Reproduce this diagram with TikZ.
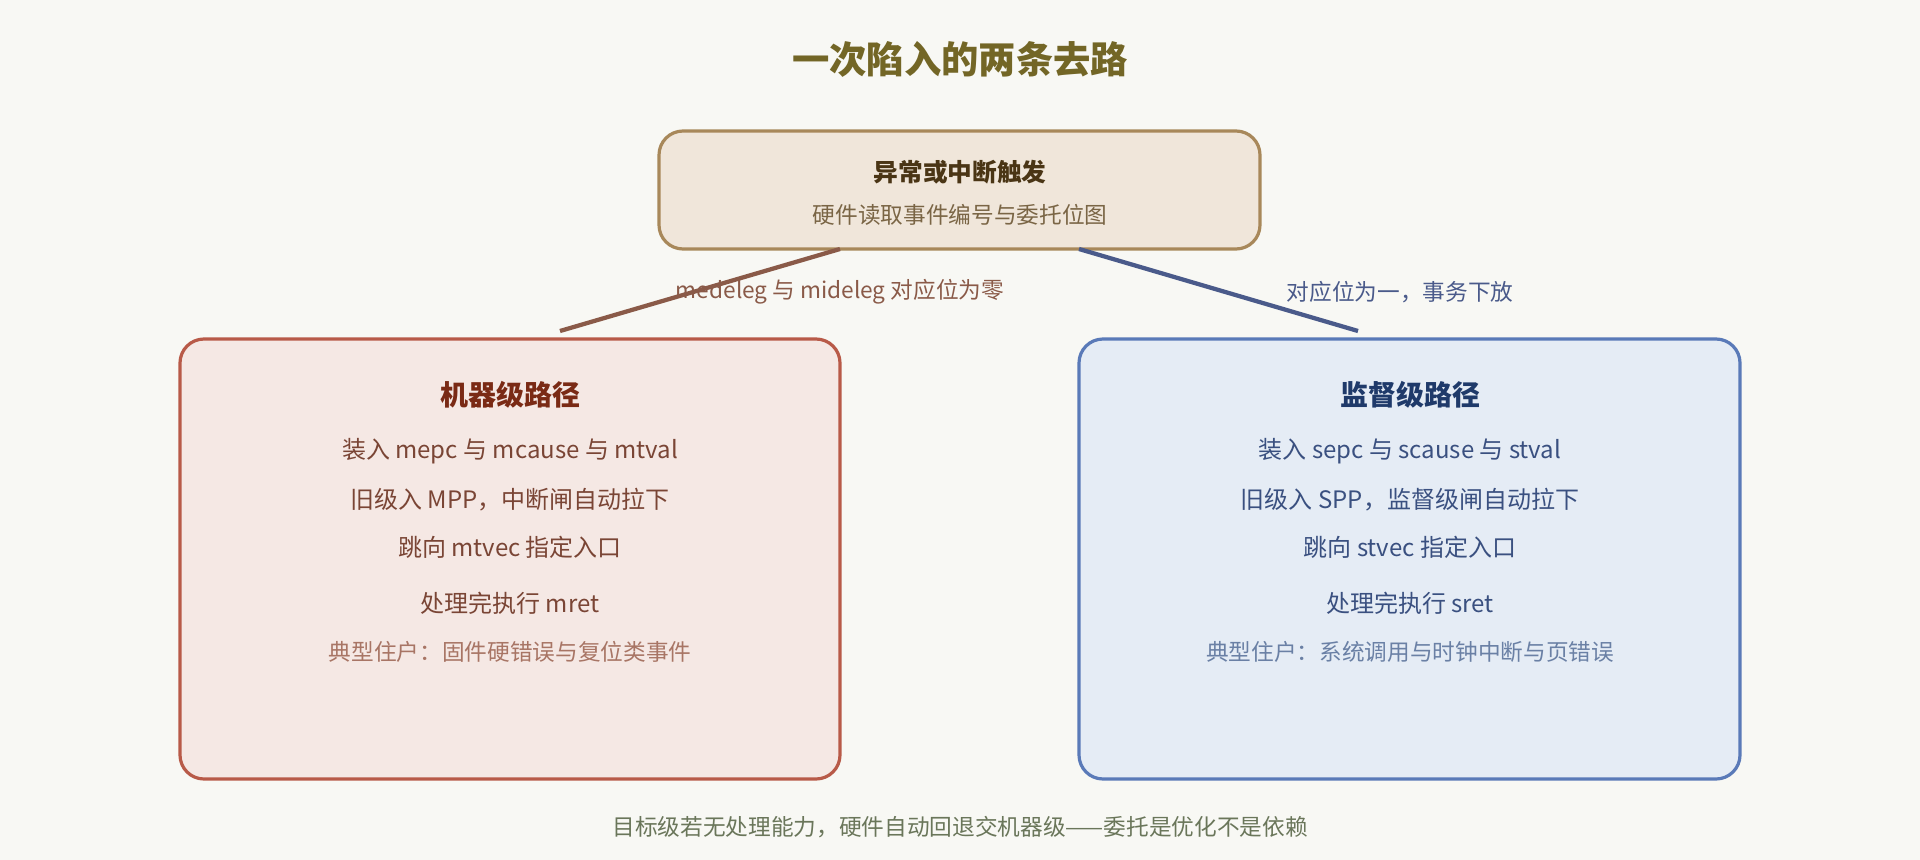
\documentclass[tikz,border=0pt]{standalone}
\usepackage{fontspec}
\setmainfont{Noto Sans CJK SC}
\newfontfamily\cjkb{Noto Sans CJK SC}[FakeBold=0]
\begin{document}
\begin{tikzpicture}[x=0.75pt,y=-0.75pt,
  box/.style={draw,line width=2.4pt,rounded corners=18pt},
  t/.style={inner sep=0pt,anchor=center},
  link/.style={line width=3.2pt}]
\definecolor{bg}{HTML}{F8F8F4}
\definecolor{tfill}{HTML}{F0E6DA}\definecolor{tdraw}{HTML}{A8885A}
\definecolor{lfill}{HTML}{F5E8E4}\definecolor{ldraw}{HTML}{B85A48}
\definecolor{rfill}{HTML}{E5ECF5}\definecolor{rdraw}{HTML}{5A7AB8}
\fill[bg] (0,0) rectangle (1920,860);
\useasboundingbox (0,0) rectangle (1920,860);
\node[t,font=\fontsize{28}{30}\selectfont\bfseries,text=black!75!green!40!brown] (title) at (960,59) {一次陷入的两条去路};
\draw[box,draw=tdraw,fill=tfill] (659,131) rectangle (1260,249);
\coordinate (top) at (960,190);
\node[t,font=\fontsize{18.5}{20}\selectfont\bfseries,text={rgb,255:red,74;green,53;blue,21}] (tt) at (960,172) {异常或中断触发};
\node[t,font=\fontsize{17}{20}\selectfont,text={rgb,255:red,122;green,101;blue,69}] (ts) at (960,215) {硬件读取事件编号与委托位图};
\coordinate (la) at (840,249); \coordinate (lb) at (560,331);
\coordinate (ra) at (1079,249); \coordinate (rb) at (1358,331);
\draw[link,color={rgb,255:red,138;green,90;blue,72}] (la) -- (lb);
\draw[link,color={rgb,255:red,74;green,90;blue,138}] (ra) -- (rb);
\node[t,font=\fontsize{17}{20}\selectfont,text={rgb,255:red,138;green,90;blue,72}] (ll) at (840,292) {medeleg 与 mideleg 对应位为零};
\node[t,font=\fontsize{17}{20}\selectfont,text={rgb,255:red,74;green,90;blue,138}] (rl) at (1400,292) {对应位为一，事务下放};
% left
\draw[box,draw=ldraw,fill=lfill] (180,339) rectangle (840,779);
\begin{scope}[every node/.style={t,font=\fontsize{18}{20}\selectfont,text={rgb,255:red,122;green,69;blue,53}}]
\node[font=\fontsize{21}{24}\selectfont\bfseries,text={rgb,255:red,122;green,42;blue,21}] (l0) at (510,395) {机器级路径};
\node (l1) at (510,451) {装入 mepc 与 mcause 与 mtval};
\node (l2) at (510,500) {旧级入 MPP，中断闸自动拉下};
\node (l3) at (510,547) {跳向 mtvec 指定入口};
\node (l4) at (510,603) {处理完执行 mret};
\node[font=\fontsize{17}{20}\selectfont,text={rgb,255:red,168;green,117;blue,101}] (l5) at (510,652) {典型住户：固件硬错误与复位类事件};
\end{scope}
% right
\draw[box,draw=rdraw,fill=rfill] (1079,339) rectangle (1740,779);
\begin{scope}[every node/.style={t,font=\fontsize{18}{20}\selectfont,text={rgb,255:red,58;green,80;blue,128}}]
\node[font=\fontsize{21}{24}\selectfont\bfseries,text={rgb,255:red,31;green,58;blue,106}] (r0) at (1410,395) {监督级路径};
\node (r1) at (1410,451) {装入 sepc 与 scause 与 stval};
\node (r2) at (1410,500) {旧级入 SPP，监督级闸自动拉下};
\node (r3) at (1410,547) {跳向 stvec 指定入口};
\node (r4) at (1410,603) {处理完执行 sret};
\node[font=\fontsize{17}{20}\selectfont,text={rgb,255:red,106;green,128;blue,165}] (r5) at (1410,652) {典型住户：系统调用与时钟中断与页错误};
\end{scope}
\node[t,font=\fontsize{17}{20}\selectfont,text={rgb,255:red,106;green,118;blue,90}] (foot) at (960,827) {目标级若无处理能力，硬件自动回退交机器级——委托是优化不是依赖};
\end{tikzpicture}
\end{document}
